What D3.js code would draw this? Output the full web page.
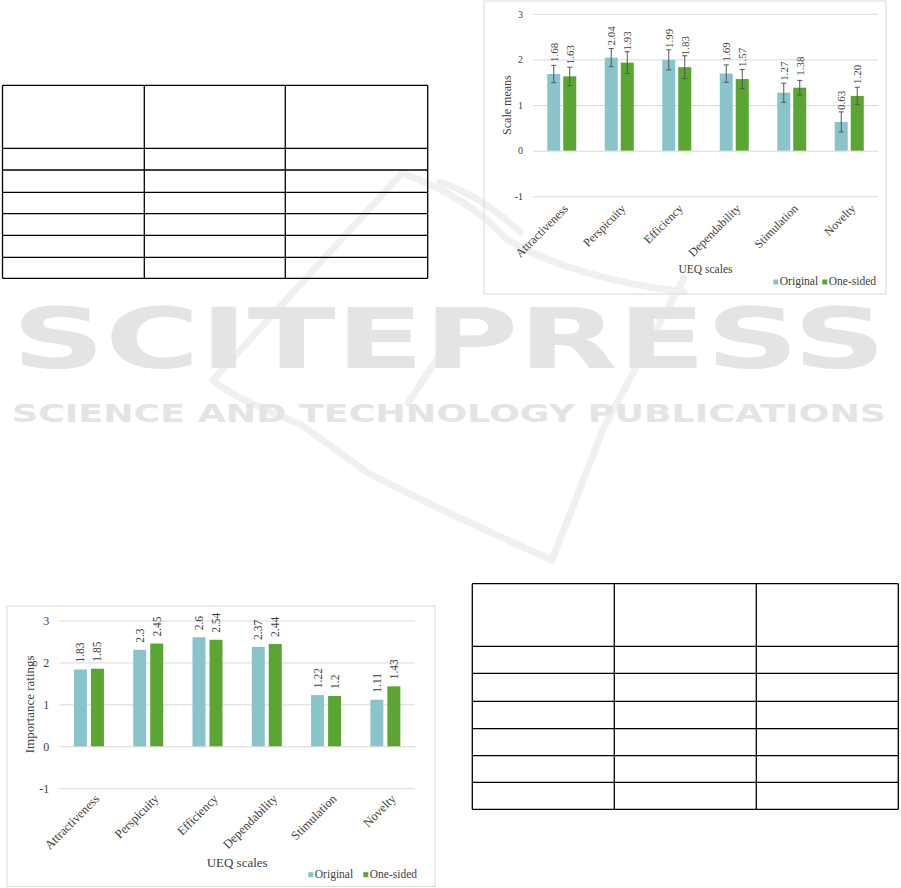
<!DOCTYPE html>
<html>
<head>
<meta charset="utf-8">
<script src="https://cdn.jsdelivr.net/npm/d3@7"></script>
<style>
  html, body { margin: 0; padding: 0; background: #ffffff; }
  svg { display: block; }
</style>
</head>
<body>
<svg id="page" width="901" height="888"></svg>
<script>
// ---------- DATA ----------
const categories = ["Attractiveness", "Perspicuity", "Efficiency", "Dependability", "Stimulation", "Novelty"];
const seriesNames = ["Original", "One-sided"];

// Chart A: scale means with error bars
const meansOriginal = [1.68, 2.04, 1.99, 1.69, 1.27, 0.63];
const meansOneSided = [1.63, 1.93, 1.83, 1.57, 1.38, 1.20];
const errOriginal   = [0.19, 0.20, 0.22, 0.19, 0.21, 0.22];
const errOneSided   = [0.20, 0.24, 0.25, 0.21, 0.16, 0.19];

// Chart B: importance ratings
const importanceOriginal = [1.83, 2.3, 2.6, 2.37, 1.22, 1.11];
const importanceOneSided = [1.85, 2.45, 2.54, 2.44, 1.2, 1.43];

const yTickValues = [-1, 0, 1, 2, 3];
const yTickLabels = ["-1", "0", "1", "2", "3"];
const yDomain = [-1, 3];

const titleMeans = "Scale means";
const titleImportance = "Importance ratings";
const xTitle = "UEQ scales";

const seriesColors = ["#89c4cb", "#5ba532"];

// ---------- PAGE ----------
const svg = d3.select("#page");
const SERIF = "'Liberation Serif', 'Times New Roman', serif";

// Watermark (faint publisher mark)
const wm = svg.append("g").attr("class", "watermark");
const wmStroke = "#f0f0f0";
[
  "M402,173 L213,380 Q232,398 300,424 L368,473 Q450,515 552,560",
  "M402,173 Q470,198 505,238 Q570,278 684,292",
  "M684,278 L604,427 L552,560",
  "M443,350 L408,403",
  "M440,182 Q480,195 520,232"
].forEach(d => wm.append("path").attr("d", d).attr("fill", "none")
  .attr("stroke", wmStroke).attr("stroke-width", 7).attr("stroke-linecap", "round"));
wm.append("text").text("SCITEPRESS")
  .attr("x", 12).attr("y", 368)
  .attr("textLength", 874).attr("lengthAdjust", "spacingAndGlyphs")
  .attr("font-family", "'DejaVu Sans', sans-serif").attr("font-weight", "bold")
  .attr("font-size", 84).attr("fill", "#e4e4e4");
wm.append("text").text("SCIENCE AND TECHNOLOGY PUBLICATIONS")
  .attr("x", 12).attr("y", 421.5)
  .attr("textLength", 874).attr("lengthAdjust", "spacingAndGlyphs")
  .attr("font-family", "'DejaVu Sans', sans-serif").attr("font-weight", "bold")
  .attr("font-size", 25).attr("fill", "#e4e4e4");

// Empty tables
function drawTable(xs, ys) {
  const g = svg.append("g").attr("stroke", "#000").attr("stroke-width", 1.3);
  ys.forEach(y => g.append("line").attr("x1", xs[0]).attr("x2", xs[xs.length - 1]).attr("y1", y).attr("y2", y));
  xs.forEach(x => g.append("line").attr("x1", x).attr("x2", x).attr("y1", ys[0]).attr("y2", ys[ys.length - 1]));
}
drawTable([2.5, 144.3, 285.3, 427.7], [85.3, 148.3, 170, 192.3, 213.7, 235.3, 257.3, 278.3]);
drawTable([472.3, 614.3, 756.3, 898.3], [583.7, 646.3, 673.3, 701.3, 728.7, 755.7, 782.3, 809.3]);

// ---------- CHART FUNCTION ----------
function drawChart(cfg) {
  const g = svg.append("g");
  g.append("rect").attr("x", cfg.frame[0]).attr("y", cfg.frame[1])
    .attr("width", cfg.frame[2]).attr("height", cfg.frame[3])
    .attr("fill", "none").attr("stroke", "#d9d9d9").attr("stroke-width", 1);

  const x = d3.scaleBand().domain(categories).range([cfg.plotX0, cfg.plotX1]);
  const y = d3.scaleLinear().domain(yDomain).range([cfg.plotYBottom, cfg.plotYTop]);
  const bw = x.bandwidth();
  const xs = d3.scaleBand().domain(seriesNames)
    .range([bw / 2 - cfg.pairWidth / 2, bw / 2 + cfg.pairWidth / 2])
    .paddingInner(cfg.pairPad);

  // gridlines + y labels
  const yAxis = g.append("g").attr("transform", `translate(${cfg.plotX0},0)`)
    .call(d3.axisLeft(y).tickValues(yTickValues).tickSize(-(cfg.plotX1 - cfg.plotX0)).tickPadding(10)
      .tickFormat((d, i) => yTickLabels[i]));
  yAxis.select(".domain").remove();
  yAxis.selectAll(".tick line").attr("stroke", "#d9d9d9");
  yAxis.selectAll(".tick text").attr("font-family", SERIF).attr("font-size", cfg.yTickSize).attr("fill", "#404040");

  // x labels
  const xAxis = g.append("g").attr("transform", `translate(0,${cfg.plotYBottom})`)
    .call(d3.axisBottom(x).tickSize(0).tickPadding(0));
  xAxis.select(".domain").remove();
  xAxis.selectAll(".tick text")
    .attr("font-family", SERIF).attr("font-size", cfg.xTickSize).attr("fill", "#404040")
    .attr("text-anchor", "end")
    .attr("y", 0).attr("dy", "0.71em")
    .attr("transform", `translate(${cfg.xLabelDX},${cfg.xLabelDY}) rotate(-45)`);

  // bars
  cfg.series.forEach((vals, si) => {
    const name = seriesNames[si];
    const grp = g.append("g");
    grp.selectAll("rect").data(vals).join("rect")
      .attr("x", (d, i) => x(categories[i]) + xs(name))
      .attr("width", xs.bandwidth())
      .attr("y", d => y(Math.max(0, d)))
      .attr("height", d => Math.abs(y(d) - y(0)))
      .attr("fill", seriesColors[si]);

    if (cfg.errors) {
      const errs = cfg.errors[si];
      const eg = g.append("g").attr("stroke", "#555").attr("stroke-width", 1);
      vals.forEach((d, i) => {
        const cx = x(categories[i]) + xs(name) + xs.bandwidth() / 2;
        const yt = y(d + errs[i]), yb = y(d - errs[i]);
        eg.append("line").attr("x1", cx).attr("x2", cx).attr("y1", yt).attr("y2", yb);
        eg.append("line").attr("x1", cx - 2.5).attr("x2", cx + 2.5).attr("y1", yt).attr("y2", yt);
        eg.append("line").attr("x1", cx - 2.5).attr("x2", cx + 2.5).attr("y1", yb).attr("y2", yb);
      });
    }

    grp.selectAll("text").data(vals).join("text")
      .attr("transform", (d, i) => {
        const cx = x(categories[i]) + xs(name) + xs.bandwidth() / 2;
        return `translate(${cx},${y(d) - cfg.labelGap}) rotate(-90)`;
      })
      .attr("dy", "0.35em")
      .attr("text-anchor", "start")
      .attr("font-family", SERIF).attr("font-size", cfg.valueSize).attr("fill", "#404040")
      .text(d => cfg.fmt(d));
  });

  // titles
  const midY = (cfg.plotYTop + cfg.plotYBottom) / 2;
  g.append("text").attr("transform", `translate(${cfg.yTitleX},${midY}) rotate(-90)`)
    .attr("text-anchor", "middle").attr("dy", "0.35em")
    .attr("font-family", SERIF).attr("font-size", cfg.yTitleSize).attr("fill", "#404040")
    .text(cfg.yTitle);
  g.append("text").attr("x", (cfg.plotX0 + cfg.plotX1) / 2).attr("y", cfg.xTitleY)
    .attr("text-anchor", "middle")
    .attr("font-family", SERIF).attr("font-size", cfg.titleSize).attr("fill", "#404040")
    .text(xTitle);

  // legend
  const lg = g.append("g");
  seriesNames.forEach((n, i) => {
    const lx = cfg.legendX[i];
    lg.append("rect").attr("x", lx).attr("y", cfg.legendY - 5.5).attr("width", 5).attr("height", 5)
      .attr("fill", seriesColors[i]);
    lg.append("text").attr("x", lx + 6.5).attr("y", cfg.legendY)
      .attr("font-family", SERIF).attr("font-size", cfg.legendSize).attr("fill", "#404040")
      .text(n);
  });
}

// Chart A (top right)
drawChart({
  frame: [484, 1, 402, 293],
  plotX0: 533, plotX1: 878, plotYTop: 13.8, plotYBottom: 196.3,
  pairWidth: 29, pairPad: 0.1875,
  series: [meansOriginal, meansOneSided],
  errors: [errOriginal, errOneSided],
  fmt: d3.format(".2f"),
  labelGap: 12,
  valueSize: 11, yTickSize: 10, xTickSize: 12, titleSize: 11.5, yTitleSize: 12, legendSize: 11.5,
  xLabelDX: 1, xLabelDY: 7,
  yTitle: titleMeans, yTitleX: 506.5, xTitleY: 273,
  legendX: [773.3, 822.3], legendY: 285
});

// Chart B (bottom left)
drawChart({
  frame: [7, 606, 428, 280.5],
  plotX0: 59.3, plotX1: 415, plotYTop: 620.5, plotYBottom: 788.2,
  pairWidth: 30, pairPad: 0.235,
  series: [importanceOriginal, importanceOneSided],
  errors: null,
  fmt: d => String(d),
  labelGap: 7,
  valueSize: 11.5, yTickSize: 12, xTickSize: 12.5, titleSize: 13, yTitleSize: 13, legendSize: 11.5,
  xLabelDX: 5, xLabelDY: 5,
  yTitle: titleImportance, yTitleX: 29.3, xTitleY: 866.7,
  legendX: [308.3, 363.3], legendY: 877.7
});
</script>
</body>
</html>
